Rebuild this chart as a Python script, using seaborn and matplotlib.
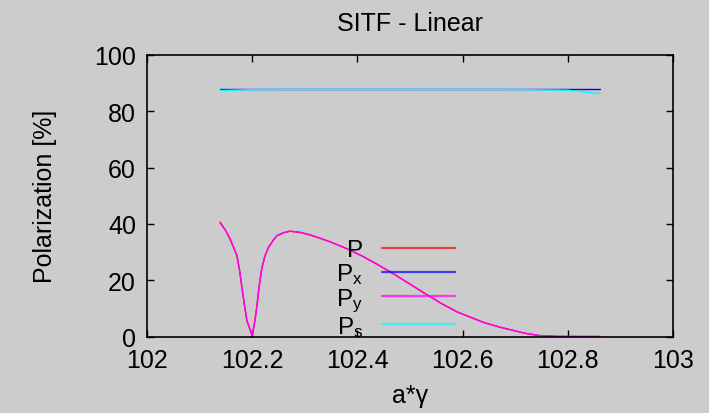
import matplotlib
matplotlib.use("Agg")
import matplotlib.pyplot as plt
import seaborn as sns
import pandas as pd

# ---- data ----
x_gamma = [102.139, 102.150, 102.158, 102.165, 102.171, 102.176, 102.180, 102.185,
           102.190, 102.195, 102.200, 102.205, 102.209, 102.213, 102.218, 102.224,
           102.231, 102.240, 102.247, 102.260, 102.272, 102.291, 102.310, 102.329,
           102.350, 102.380, 102.410, 102.440, 102.470, 102.500, 102.530, 102.560,
           102.590, 102.614, 102.640, 102.671, 102.700, 102.720, 102.747, 102.780,
           102.820, 102.861]
P_total = [40.6, 37.5, 34.6, 31.5, 28.7, 23.5, 18.0, 11.5,
           5.6, 3.0, 0.2, 5.5, 10.9, 17.5, 24.0, 28.5,
           31.7, 34.2, 35.8, 36.9, 37.4, 37.0, 36.1, 34.9,
           33.5, 31.2, 28.5, 25.4, 22.1, 18.6, 15.1, 11.7,
           8.7, 6.9, 5.0, 3.3, 2.0, 1.1, 0.3, 0.05,
           0.0, 0.0]
P_y = [40.4, 37.5, 34.6, 31.5, 28.7, 23.5, 18.0, 11.5,
       5.6, 3.0, 0.2, 5.5, 10.9, 17.5, 24.0, 28.5,
       31.7, 34.2, 35.8, 36.9, 37.4, 37.0, 36.1, 34.9,
       33.5, 31.2, 28.5, 25.4, 22.1, 18.6, 15.1, 11.7,
       8.7, 6.9, 5.0, 3.3, 2.0, 1.1, 0.3, 0.05,
       0.0, 0.0]
x_flat = [102.139, 102.200, 102.300, 102.500, 102.700, 102.800, 102.861]
P_x = [87.8, 87.8, 87.8, 87.8, 87.8, 87.8, 87.8]
P_s = [87.4, 87.7, 87.8, 87.8, 87.75, 87.5, 86.3]

series_labels = ["P", r"P$_\mathrm{x}$", r"P$_\mathrm{y}$", r"P$_\mathrm{s}$"]
series_colors = ["#ff0000", "#0000ff", "#ff00ff", "#00ffff"]
x_ticks = [102, 102.2, 102.4, 102.6, 102.8, 103]
x_tick_labels = ["102", "102.2", "102.4", "102.6", "102.8", "103"]
y_ticks = [0, 20, 40, 60, 80, 100]

# ---- style ----
sns.set_theme(style="ticks")
plt.rcParams["font.family"] = ["Liberation Sans", "DejaVu Sans"]
plt.rcParams["mathtext.fontset"] = "custom"
plt.rcParams["mathtext.rm"] = "Liberation Sans"
plt.rcParams["mathtext.it"] = "Liberation Sans"
for k in ["text.color", "axes.labelcolor", "xtick.color", "ytick.color"]:
    plt.rcParams[k] = "black"
bg = "#cccccc"

fig = plt.figure(figsize=(7.09, 4.14), dpi=100, facecolor=bg)
ax = fig.add_axes([147 / 709, 1 - 337.5 / 414, 526 / 709, 281.5 / 414])
ax.set_facecolor(bg)

df_curve = pd.DataFrame({"x": x_gamma, "P": P_total, "Py": P_y})
df_flat = pd.DataFrame({"x": x_flat, "Px": P_x, "Ps": P_s})

lw = 1.0
sns.lineplot(data=df_curve, x="x", y="P", color=series_colors[0], lw=lw,
             label=series_labels[0], ax=ax, sort=False)
sns.lineplot(data=df_flat, x="x", y="Px", color=series_colors[1], lw=lw,
             label=series_labels[1], ax=ax, sort=False)
sns.lineplot(data=df_curve, x="x", y="Py", color=series_colors[2], lw=lw,
             label=series_labels[2], ax=ax, sort=False)
sns.lineplot(data=df_flat, x="x", y="Ps", color=series_colors[3], lw=lw,
             label=series_labels[3], ax=ax, sort=False)

ax.set_xlim(102, 103)
ax.set_ylim(0, 100)
ax.set_xticks(x_ticks)
ax.set_xticklabels(x_tick_labels)
ax.set_yticks(y_ticks)
ax.tick_params(axis="both", which="major", direction="in", length=5, width=1,
               top=True, right=True, labelsize=18, pad=8, colors="black")
for s in ax.spines.values():
    s.set_visible(True)
    s.set_color("black")
    s.set_linewidth(1.2)

ax.set_title("SITF - Linear", fontsize=18, pad=18)
ax.set_xlabel("a*γ", fontsize=18, labelpad=8)
ax.set_ylabel("Polarization [%]", fontsize=18, labelpad=27)

leg = ax.legend(loc="upper right", bbox_to_anchor=((455 - 147) / 526, 0.345),
                frameon=False, markerfirst=False, fontsize=17.5,
                handlelength=3.0, handletextpad=0.78, labelspacing=0.0,
                borderpad=0, borderaxespad=0)
for t in leg.get_texts():
    t.set_ha("right")
for h in leg.get_lines():
    h.set_alpha(0.7)
    h.set_linewidth(1.6)

fig.savefig("out.png", dpi=100, facecolor=bg)
